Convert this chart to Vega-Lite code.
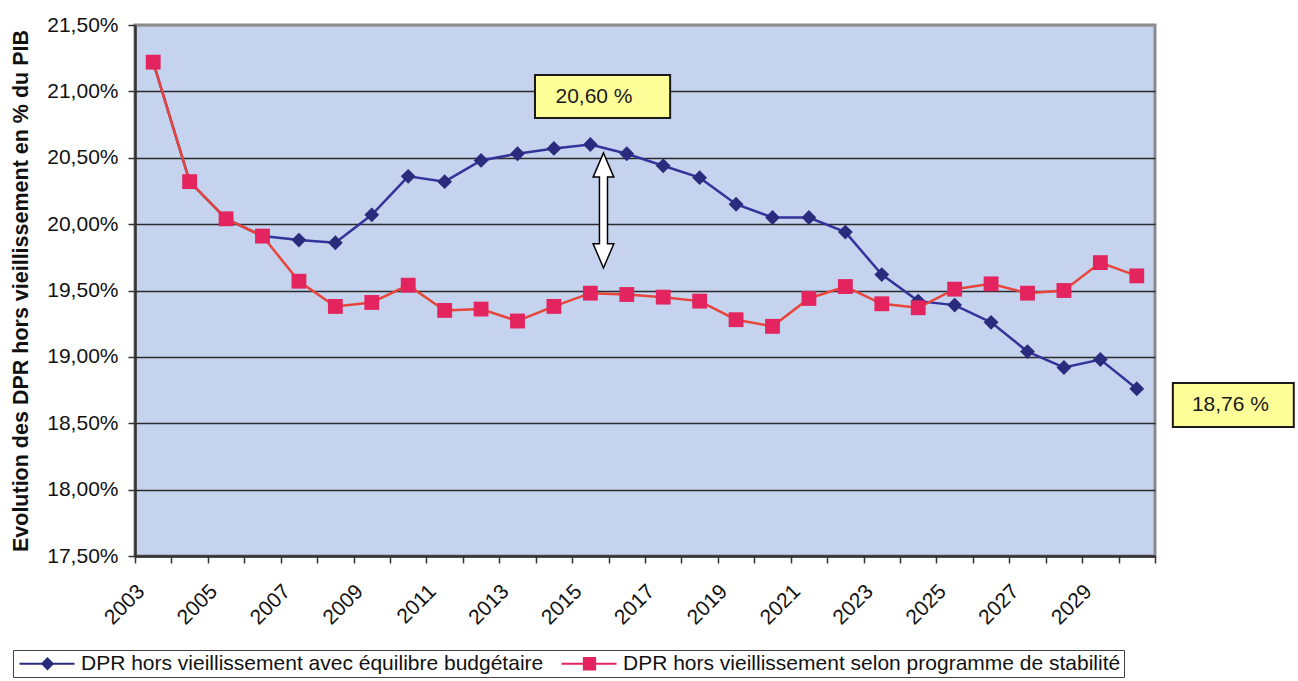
{
  "$schema": "https://vega.github.io/schema/vega-lite/v6.json",
  "width": 1020,
  "height": 531,
  "autosize": "none",
  "padding": {"left": 135, "top": 25, "right": 143, "bottom": 125},
  "background": "white",
  "config": {
    "font": "Liberation Sans",
    "view": {"fill": "#C6D3EE", "stroke": "#8C8C8C", "strokeWidth": 3}
  },
  "datasets": {
    "series": [
      {"year": 2003, "series": "DPR hors vieillissement avec équilibre budgétaire", "value": 21.22},
      {"year": 2004, "series": "DPR hors vieillissement avec équilibre budgétaire", "value": 20.32},
      {"year": 2005, "series": "DPR hors vieillissement avec équilibre budgétaire", "value": 20.04},
      {"year": 2006, "series": "DPR hors vieillissement avec équilibre budgétaire", "value": 19.91},
      {"year": 2007, "series": "DPR hors vieillissement avec équilibre budgétaire", "value": 19.88},
      {"year": 2008, "series": "DPR hors vieillissement avec équilibre budgétaire", "value": 19.86},
      {"year": 2009, "series": "DPR hors vieillissement avec équilibre budgétaire", "value": 20.07},
      {"year": 2010, "series": "DPR hors vieillissement avec équilibre budgétaire", "value": 20.36},
      {"year": 2011, "series": "DPR hors vieillissement avec équilibre budgétaire", "value": 20.32},
      {"year": 2012, "series": "DPR hors vieillissement avec équilibre budgétaire", "value": 20.48},
      {"year": 2013, "series": "DPR hors vieillissement avec équilibre budgétaire", "value": 20.53},
      {"year": 2014, "series": "DPR hors vieillissement avec équilibre budgétaire", "value": 20.57},
      {"year": 2015, "series": "DPR hors vieillissement avec équilibre budgétaire", "value": 20.60},
      {"year": 2016, "series": "DPR hors vieillissement avec équilibre budgétaire", "value": 20.53},
      {"year": 2017, "series": "DPR hors vieillissement avec équilibre budgétaire", "value": 20.44},
      {"year": 2018, "series": "DPR hors vieillissement avec équilibre budgétaire", "value": 20.35},
      {"year": 2019, "series": "DPR hors vieillissement avec équilibre budgétaire", "value": 20.15},
      {"year": 2020, "series": "DPR hors vieillissement avec équilibre budgétaire", "value": 20.05},
      {"year": 2021, "series": "DPR hors vieillissement avec équilibre budgétaire", "value": 20.05},
      {"year": 2022, "series": "DPR hors vieillissement avec équilibre budgétaire", "value": 19.94},
      {"year": 2023, "series": "DPR hors vieillissement avec équilibre budgétaire", "value": 19.62},
      {"year": 2024, "series": "DPR hors vieillissement avec équilibre budgétaire", "value": 19.42},
      {"year": 2025, "series": "DPR hors vieillissement avec équilibre budgétaire", "value": 19.39},
      {"year": 2026, "series": "DPR hors vieillissement avec équilibre budgétaire", "value": 19.26},
      {"year": 2027, "series": "DPR hors vieillissement avec équilibre budgétaire", "value": 19.04},
      {"year": 2028, "series": "DPR hors vieillissement avec équilibre budgétaire", "value": 18.92},
      {"year": 2029, "series": "DPR hors vieillissement avec équilibre budgétaire", "value": 18.98},
      {"year": 2030, "series": "DPR hors vieillissement avec équilibre budgétaire", "value": 18.76},
      {"year": 2003, "series": "DPR hors vieillissement selon programme de stabilité", "value": 21.22},
      {"year": 2004, "series": "DPR hors vieillissement selon programme de stabilité", "value": 20.32},
      {"year": 2005, "series": "DPR hors vieillissement selon programme de stabilité", "value": 20.04},
      {"year": 2006, "series": "DPR hors vieillissement selon programme de stabilité", "value": 19.91},
      {"year": 2007, "series": "DPR hors vieillissement selon programme de stabilité", "value": 19.57},
      {"year": 2008, "series": "DPR hors vieillissement selon programme de stabilité", "value": 19.38},
      {"year": 2009, "series": "DPR hors vieillissement selon programme de stabilité", "value": 19.41},
      {"year": 2010, "series": "DPR hors vieillissement selon programme de stabilité", "value": 19.54},
      {"year": 2011, "series": "DPR hors vieillissement selon programme de stabilité", "value": 19.35},
      {"year": 2012, "series": "DPR hors vieillissement selon programme de stabilité", "value": 19.36},
      {"year": 2013, "series": "DPR hors vieillissement selon programme de stabilité", "value": 19.27},
      {"year": 2014, "series": "DPR hors vieillissement selon programme de stabilité", "value": 19.38},
      {"year": 2015, "series": "DPR hors vieillissement selon programme de stabilité", "value": 19.48},
      {"year": 2016, "series": "DPR hors vieillissement selon programme de stabilité", "value": 19.47},
      {"year": 2017, "series": "DPR hors vieillissement selon programme de stabilité", "value": 19.45},
      {"year": 2018, "series": "DPR hors vieillissement selon programme de stabilité", "value": 19.42},
      {"year": 2019, "series": "DPR hors vieillissement selon programme de stabilité", "value": 19.28},
      {"year": 2020, "series": "DPR hors vieillissement selon programme de stabilité", "value": 19.23},
      {"year": 2021, "series": "DPR hors vieillissement selon programme de stabilité", "value": 19.44},
      {"year": 2022, "series": "DPR hors vieillissement selon programme de stabilité", "value": 19.53},
      {"year": 2023, "series": "DPR hors vieillissement selon programme de stabilité", "value": 19.40},
      {"year": 2024, "series": "DPR hors vieillissement selon programme de stabilité", "value": 19.37},
      {"year": 2025, "series": "DPR hors vieillissement selon programme de stabilité", "value": 19.51},
      {"year": 2026, "series": "DPR hors vieillissement selon programme de stabilité", "value": 19.55},
      {"year": 2027, "series": "DPR hors vieillissement selon programme de stabilité", "value": 19.48},
      {"year": 2028, "series": "DPR hors vieillissement selon programme de stabilité", "value": 19.50},
      {"year": 2029, "series": "DPR hors vieillissement selon programme de stabilité", "value": 19.71},
      {"year": 2030, "series": "DPR hors vieillissement selon programme de stabilité", "value": 19.61}
    ],
    "boxes": [
      {"year": 2013.48, "year2": 2017.19, "value": 21.123, "value2": 20.80},
      {"year": 2030.99, "year2": 2034.31, "value": 18.803, "value2": 18.472}
    ],
    "labels": [
      {"year": 2015.1, "value": 20.958, "label": "20,60 %"},
      {"year": 2032.57, "value": 18.637, "label": "18,76 %"}
    ],
    "arrow": [
      {"year": 2015.36, "value": 20.103}
    ]
  },
  "data": {"name": "series"},
  "encoding": {
    "x": {
      "field": "year",
      "type": "quantitative",
      "scale": {"domain": [2002.5, 2030.5], "nice": false, "zero": false},
      "axis": {
        "title": null,
        "values": [2002.5, 2003.5, 2004.5, 2005.5, 2006.5, 2007.5, 2008.5, 2009.5, 2010.5, 2011.5, 2012.5, 2013.5, 2014.5, 2015.5, 2016.5, 2017.5, 2018.5, 2019.5, 2020.5, 2021.5, 2022.5, 2023.5, 2024.5, 2025.5, 2026.5, 2027.5, 2028.5, 2029.5, 2030.5],
        "labelExpr": "((datum.value + 0.5) % 2 == 1 && datum.value < 2030) ? toString(datum.value + 0.5) : ''",
        "labelAngle": -45,
        "labelAlign": "right",
        "labelBaseline": "middle",
        "labelOffset": 6,
        "labelPadding": 25,
        "labelFontSize": 21,
        "labelColor": "#111111",
        "labelOverlap": false,
        "labelBound": false,
        "labelFlush": false,
        "tickSize": 7,
        "tickColor": "#333333",
        "tickWidth": 1.5,
        "domainColor": "#333333",
        "domainWidth": 2.5,
        "grid": false
      }
    },
    "y": {
      "field": "value",
      "type": "quantitative",
      "scale": {"domain": [17.5, 21.5], "nice": false, "zero": false},
      "axis": {
        "title": "Evolution des DPR hors vieillissement en % du PIB",
        "titleFontSize": 21.5,
        "titleFontWeight": "bold",
        "titleColor": "#111111",
        "titlePadding": 14,
        "values": [17.5, 18, 18.5, 19, 19.5, 20, 20.5, 21, 21.5],
        "labelExpr": "replace(format(datum.value, '.2f'), '.', ',') + '%'",
        "labelFontSize": 21,
        "labelColor": "#111111",
        "labelPadding": 10,
        "tickSize": 7,
        "tickColor": "#333333",
        "tickWidth": 1.5,
        "domainColor": "#333333",
        "domainWidth": 2.5,
        "grid": true,
        "gridColor": {"condition": {"test": "datum.value == 21.5", "value": "#8C8C8C"}, "value": "#2B2B2B"},
        "gridWidth": 1.3
      }
    }
  },
  "layer": [
    {
      "transform": [{"filter": "indexof(datum.series, 'équilibre') >= 0"}],
      "mark": {"type": "line", "strokeWidth": 2.5, "color": "#333399"}
    },
    {
      "transform": [{"filter": "indexof(datum.series, 'stabilité') >= 0"}],
      "mark": {"type": "line", "strokeWidth": 2.5, "color": "#E8443A"}
    },
    {
      "transform": [{"filter": "indexof(datum.series, 'équilibre') >= 0"}],
      "mark": {"type": "point", "shape": "diamond", "filled": true, "opacity": 1, "size": 220, "color": "#2B2B7E"}
    },
    {
      "transform": [{"filter": "indexof(datum.series, 'stabilité') >= 0"}],
      "mark": {"type": "point", "shape": "square", "filled": true, "opacity": 1, "size": 220, "color": "#E3245E"}
    },
    {
      "transform": [{"filter": "false"}],
      "mark": {"type": "point", "filled": true, "opacity": 1, "size": 196},
      "encoding": {
        "color": {
          "field": "series",
          "type": "nominal",
          "scale": {"domain": ["DPR hors vieillissement avec équilibre budgétaire", "DPR hors vieillissement selon programme de stabilité"], "range": ["#2B2B7E", "#E3245E"]},
          "legend": {
            "orient": "none",
            "legendX": -122,
            "legendY": 625,
            "direction": "horizontal",
            "title": null,
            "labelFontSize": 21,
            "labelFont": "Liberation Sans",
            "labelColor": "#111111",
            "labelLimit": 2000,
            "symbolSize": 196,
            "symbolStrokeWidth": 0,
            "labelOffset": 44,
            "columnPadding": 14,
            "padding": 3,
            "strokeColor": "#444444",
            "fillColor": "white"
          }
        },
        "shape": {
          "field": "series",
          "type": "nominal",
          "scale": {"domain": ["DPR hors vieillissement avec équilibre budgétaire", "DPR hors vieillissement selon programme de stabilité"], "range": ["M-1,-0.15H6.86V0.15H-1Z M3,-0.95L3.95,0L3,0.95L2.05,0Z", "M-1,-0.15H6.86V0.15H-1Z M2.05,-0.95H3.95V0.95H2.05Z"]}
        }
      }
    },
    {
      "data": {"name": "boxes"},
      "mark": {"type": "rect", "fill": "#FFFF99", "stroke": "#1A1A1A", "strokeWidth": 2},
      "encoding": {
        "x2": {"field": "year2"},
        "y2": {"field": "value2"}
      }
    },
    {
      "data": {"name": "labels"},
      "mark": {"type": "text", "fontSize": 21, "color": "#1A1A1A", "align": "center", "baseline": "middle", "font": "Liberation Sans"},
      "encoding": {
        "text": {"field": "label", "type": "nominal"}
      }
    },
    {
      "data": {"name": "arrow"},
      "mark": {
        "type": "point",
        "shape": "M0,-1L0.18,-0.58L0.07,-0.58L0.07,0.58L0.18,0.58L0,1L-0.18,0.58L-0.07,0.58L-0.07,-0.58L-0.18,-0.58Z",
        "size": 13225,
        "filled": true,
        "fill": "white",
        "stroke": "black",
        "strokeWidth": 1.5,
        "opacity": 1
      }
    }
  ]
}
